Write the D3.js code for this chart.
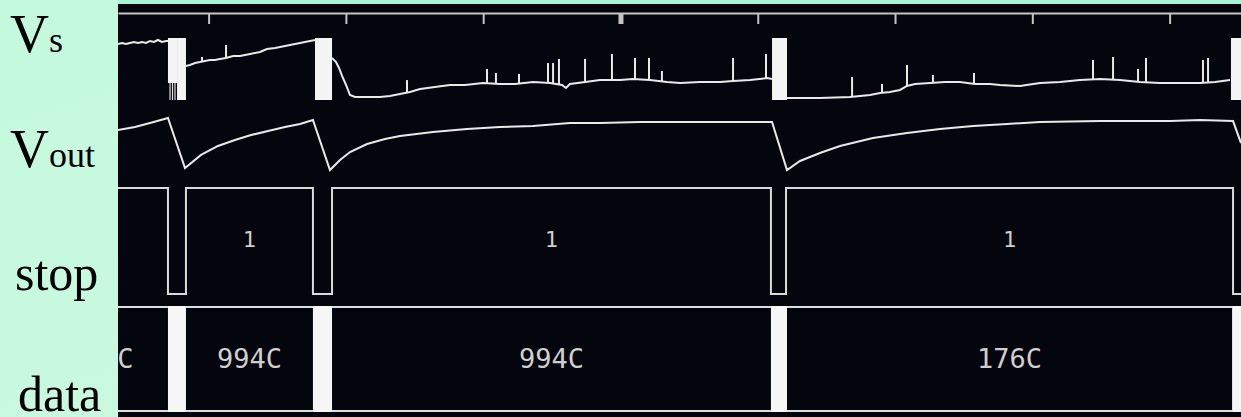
<!DOCTYPE html>
<html>
<head>
<meta charset="utf-8">
<script src="https://cdn.jsdelivr.net/npm/d3@7"></script>
<style>
html, body { margin: 0; padding: 0; background: #c6f8dd; overflow: hidden; }
svg { display: block; }
</style>
</head>
<body>
<div id="container"></div>
<script>
width = 1241;
height = 417;

// time axis, 100 units per division
timeDomain = [34, 852];
axisTicks = [100, 200, 300, 400, 500, 600, 700, 800];
centerTick = 400;

// channel names
labelMain = ["V", "V", "stop", "data"];
labelSub = ["s", "out", "", ""];

// Vs trace (volts), NaN = gap under the burst blocks
vsTime = [34.0, 36.9, 39.8, 42.7, 45.7, 48.6, 51.5, 54.4, 57.3, 60.2, 63.1, 66.0, 69.0, 70.4, NaN,
  83.5, 86.4, 90.1, 93.7, 97.3, 101.0, 104.6, 108.2, 112.7, 117.8, 122.9, 130.2, 137.4, 142.5, 148.4, 152.0, 159.3, 166.6, 170.2, 173.9, 177.5, NaN,
  189.9, 192.8, 195.0, 197.2, 200.1, 203.0, 206.6, 217.6, 224.8, 232.1, 239.4, 246.7, 254.0, 264.9, 275.8, 286.8, 299.9, 312.2, 323.2, 336.3, 348.7, 357.4, 360.3, 363.2, 374.2, 385.1, 399.7, 409.1, 421.5, 433.9, 443.4, 457.9, 472.5, 482.0, 494.4, 506.7, 510.4, NaN,
  521.3, 545.3, 567.2, 581.8, 589.1, 596.3, 603.6, 608.7, 614.5, 625.5, 636.4, 647.3, 658.3, 669.2, 676.4, 691.0, 705.6, 720.2, 734.7, 749.3, 763.9, 778.4, 793.0, 807.6, 822.2, 833.1, 844.0];
vsVolt = [4.52, 4.60, 4.52, 4.60, 4.68, 4.60, 4.68, 4.60, 4.76, 4.68, 4.84, 4.68, 4.76, 4.76, NaN,
  2.74, 2.82, 2.98, 3.06, 3.15, 3.23, 3.23, 3.31, 3.39, 3.55, 3.55, 3.71, 3.87, 4.11, 4.19, 4.27, 4.44, 4.60, 4.68, 4.76, 4.84, NaN,
  3.39, 3.06, 2.58, 1.94, 1.21, 0.40, 0.24, 0.24, 0.24, 0.32, 0.48, 0.65, 0.89, 1.05, 1.21, 1.21, 1.37, 1.29, 1.29, 1.45, 1.37, 1.21, 0.97, 1.29, 1.45, 1.61, 1.61, 1.69, 1.61, 1.45, 1.37, 1.45, 1.45, 1.53, 1.61, 1.77, 1.69, NaN,
  0.16, 0.16, 0.24, 0.40, 0.56, 0.65, 0.81, 1.13, 1.29, 1.37, 1.45, 1.45, 1.29, 1.29, 1.21, 1.13, 1.37, 1.45, 1.61, 1.69, 1.61, 1.45, 1.37, 1.37, 1.37, 1.45, 1.61];

// glitch spikes on Vs: time, peak volts
spikeTime = [95.2, 112.7, 244.5, 302.8, 309.3, 326.1, 347.2, 350.9, 355.2, 374.2, 393.8, 410.6, 420.8, 430.2, 482.0, 506.0,
  568.7, 590.5, 608.7, 627.6, 657.5, 744.2, 758.8, 777.0, 782.8, 824.3, 828.0];
spikePeak = [3.47, 4.44, 1.61, 2.50, 2.18, 2.10, 2.98, 2.98, 3.31, 3.31, 3.71, 3.39, 3.39, 2.34, 3.39, 3.71,
  1.85, 1.29, 2.82, 2.02, 2.18, 3.23, 3.47, 2.50, 3.39, 3.23, 3.39];

// solid bursts on Vs: start, end, low volts, high volts
burstStart = [70.4, 77.0, 177.5, 510.4, 844.7];
burstEnd = [77.0, 83.5, 189.9, 521.3, 870];
burstLow = [1.37, 0, 0, 0, 0];
burstHigh = [5.0, 5.0, 5.0, 5.0, 5.0];
burstLines = [71.9, 73.7, 75.5];

// Vout trace (volts)
voutTime = [34.0, 46.4, 57.3, 70.4, 82.8, 94.5, 106.8, 119.2, 130.9, 143.3, 155.6, 166.6, 176.0, 188.4,
  195.7, 203.0, 215.4, 228.5, 239.4, 263.4, 288.2, 312.2, 336.3, 363.2, 385.1, 414.2, 457.9, 510.4, 521.3,
  530.8, 545.3, 559.9, 583.9, 608.7, 632.8, 656.8, 681.6, 705.6, 749.3, 800.3, 822.2, 846.2, 852.0];
voutVolt = [3.57, 3.79, 4.07, 4.43, 0.86, 1.79, 2.43, 2.86, 3.21, 3.50, 3.79, 4.00, 4.29, 0.71,
  1.43, 2.00, 2.57, 2.93, 3.14, 3.43, 3.64, 3.79, 3.86, 4.07, 4.07, 4.14, 4.14, 4.14, 0.71,
  1.36, 1.93, 2.43, 3.00, 3.36, 3.64, 3.86, 4.00, 4.14, 4.21, 4.21, 4.29, 4.21, 2.64];

// stop line: edge times and logic level after each edge
stopTime = [-40, 70.4, 83.5, 176.0, 189.9, 509.6, 520.6, 846.2, 900];
stopLevel = [1, 0, 1, 0, 1, 0, 1, 0, 0];

// data bus: value segments
dataStart = [-27, 83.5, 189.9, 521.3];
dataEnd = [70.4, 176.0, 509.6, 845.5];
dataValue = ["994C", "994C", "994C", "176C"];

window.onload = function() {
  var svg = d3.select("#container").append("svg")
    .attr("width", width)
    .attr("height", height);

  var defs = svg.append("defs");
  var grad = defs.append("linearGradient").attr("id", "bg")
    .attr("x1", 0).attr("y1", 0).attr("x2", 1).attr("y2", 1);
  grad.append("stop").attr("offset", "0%").attr("stop-color", "#c4f9dd");
  grad.append("stop").attr("offset", "100%").attr("stop-color", "#cdf9e0");

  svg.append("rect").attr("width", width).attr("height", height).attr("fill", "url(#bg)");
  svg.append("rect").attr("x", 118).attr("width", width - 118).attr("height", 5).attr("fill", "#a6f6d6");

  // the scope screen
  var left = 118, top = 4;
  svg.append("rect")
    .attr("x", left).attr("y", top)
    .attr("width", width - left).attr("height", height - top)
    .attr("fill", "#05050e");

  defs.append("clipPath").attr("id", "screen")
    .append("rect").attr("x", left).attr("y", top)
    .attr("width", width - left).attr("height", height - top);

  var g = svg.append("g").attr("clip-path", "url(#screen)");

  var x = d3.scaleLinear().domain(timeDomain).range([left, width]);
  var yVs = d3.scaleLinear().domain([0, 5]).range([100, 38]);
  var yOut = d3.scaleLinear().domain([0, 5]).range([180, 110]);
  var yStop = d3.scaleLinear().domain([0, 1]).range([294, 188]);
  var dataTop = 307, dataBottom = 411;

  // time axis across the top
  var axis = g.append("g")
    .attr("transform", "translate(0,13)")
    .call(d3.axisBottom(x).tickValues(axisTicks).tickSize(11).tickSizeOuter(0).tickFormat(""));
  axis.select(".domain").attr("stroke", "#c4c4c4").attr("stroke-width", 2);
  axis.selectAll(".tick line")
    .attr("stroke", "#c4c4c4")
    .attr("stroke-width", function(d) { return d == centerTick ? 5 : 2; });

  var traceColor = "#e9e9e9";

  // Vs
  var vsData = vsTime.map(function(t, i) { return [t, vsVolt[i]]; });
  g.append("path")
    .datum(vsData)
    .attr("d", d3.line()
      .defined(function(d) { return !isNaN(d[0]); })
      .x(function(d) { return x(d[0]); })
      .y(function(d) { return yVs(d[1]); }))
    .attr("fill", "none")
    .attr("stroke", traceColor)
    .attr("stroke-width", 2);

  function vsAt(t) {
    for (var i = 0; i < vsTime.length - 1; i++) {
      if (vsTime[i] <= t && t <= vsTime[i + 1]) {
        var k = (t - vsTime[i]) / (vsTime[i + 1] - vsTime[i]);
        return vsVolt[i] + k * (vsVolt[i + 1] - vsVolt[i]);
      }
    }
    return 0;
  }

  g.selectAll("line.spike")
    .data(spikeTime)
    .enter().append("line")
    .attr("class", "spike")
    .attr("x1", function(d) { return x(d); })
    .attr("x2", function(d) { return x(d); })
    .attr("y1", function(d) { return yVs(vsAt(d)); })
    .attr("y2", function(d, i) { return yVs(spikePeak[i]); })
    .attr("stroke", traceColor)
    .attr("stroke-width", 2);

  g.selectAll("rect.burst")
    .data(burstStart)
    .enter().append("rect")
    .attr("class", "burst")
    .attr("x", function(d) { return x(d); })
    .attr("width", function(d, i) { return x(burstEnd[i]) - x(d); })
    .attr("y", function(d, i) { return yVs(burstHigh[i]); })
    .attr("height", function(d, i) { return yVs(burstLow[i]) - yVs(burstHigh[i]); })
    .attr("fill", "#f4f4f4");

  g.selectAll("line.burstline")
    .data(burstLines)
    .enter().append("line")
    .attr("x1", function(d) { return x(d); })
    .attr("x2", function(d) { return x(d); })
    .attr("y1", yVs(0))
    .attr("y2", yVs(burstLow[0]))
    .attr("stroke", "#e0e0e0")
    .attr("stroke-width", 1.2);

  // Vout
  var voutData = voutTime.map(function(t, i) { return [t, voutVolt[i]]; });
  g.append("path")
    .datum(voutData)
    .attr("d", d3.line()
      .x(function(d) { return x(d[0]); })
      .y(function(d) { return yOut(d[1]); }))
    .attr("fill", "none")
    .attr("stroke", traceColor)
    .attr("stroke-width", 2);

  // stop
  var stopData = stopTime.map(function(t, i) { return [t, stopLevel[i]]; });
  g.append("path")
    .datum(stopData)
    .attr("d", d3.line()
      .curve(d3.curveStepAfter)
      .x(function(d) { return x(d[0]); })
      .y(function(d) { return yStop(d[1]); }))
    .attr("fill", "none")
    .attr("stroke", "#dadada")
    .attr("stroke-width", 2);

  var highs = [];
  stopTime.forEach(function(t, i) {
    if (stopLevel[i] == 1 && i < stopTime.length - 1) highs.push([t, stopTime[i + 1]]);
  });
  g.selectAll("text.stoplabel")
    .data(highs)
    .enter().append("text")
    .attr("x", function(d) { return x((d[0] + d[1]) / 2); })
    .attr("y", 247)
    .attr("text-anchor", "middle")
    .attr("font-family", "DejaVu Sans Mono, monospace")
    .attr("font-size", 22)
    .attr("fill", "#cfcfcf")
    .text("1");

  // data bus
  dataStart.forEach(function(t0, i) {
    var x0 = x(t0), x1 = x(dataEnd[i]);
    g.append("line").attr("x1", x0).attr("x2", x1).attr("y1", dataTop).attr("y2", dataTop)
      .attr("stroke", "#dedede").attr("stroke-width", 2);
    g.append("line").attr("x1", x0).attr("x2", x1).attr("y1", dataBottom).attr("y2", dataBottom)
      .attr("stroke", "#dedede").attr("stroke-width", 2);
    g.append("text")
      .attr("x", (x0 + x1) / 2)
      .attr("y", 368)
      .attr("text-anchor", "middle")
      .attr("font-family", "DejaVu Sans Mono, monospace")
      .attr("font-size", 27)
      .attr("fill", "#cfcfcf")
      .text(dataValue[i]);
  });
  // filled transitions between values
  dataEnd.forEach(function(t1, i) {
    var next = i + 1 < dataStart.length ? dataStart[i + 1] : 900;
    g.append("rect")
      .attr("x", x(t1)).attr("width", x(next) - x(t1))
      .attr("y", dataTop - 1).attr("height", dataBottom - dataTop + 2)
      .attr("fill", "#f6f6f6");
  });

  // channel names on the left
  var labelBase = [52, 167, 290, 411];
  var labelX = [10, 10, 15, 18];
  labelMain.forEach(function(m, i) {
    var t = svg.append("text")
      .attr("x", labelX[i])
      .attr("y", labelBase[i])
      .attr("font-family", "Liberation Serif, Times New Roman, serif")
      .attr("fill", "#000");
    t.append("tspan").attr("font-size", labelSub[i] ? 54 : 50).text(m);
    if (labelSub[i]) t.append("tspan").attr("font-size", 36).text(labelSub[i]);
  });
}
</script>
</body>
</html>
